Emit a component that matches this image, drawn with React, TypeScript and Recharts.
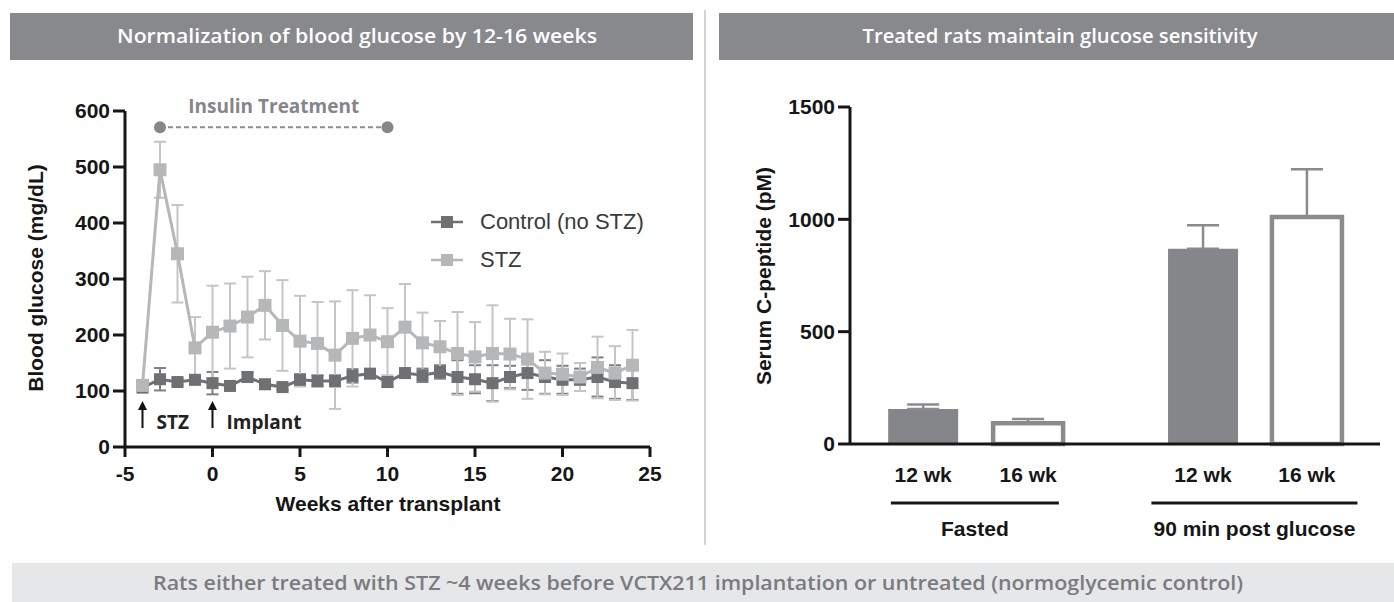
import React from 'react';
import {
  LineChart, Line, XAxis, YAxis, ErrorBar, ReferenceLine, ReferenceDot, Legend,
  BarChart, Bar, Cell,
} from 'recharts';

// ---------- Left panel data ----------
const weeks = [-4, -3, -2, -1, 0, 1, 2, 3, 4, 5, 6, 7, 8, 9, 10, 11, 12, 13, 14, 15, 16, 17, 18, 19, 20, 21, 22, 23, 24];
const controlMean = [106, 121, 116, 120, 114, 109, 125, 112, 107, 120, 118, 118, 127, 131, 116, 132, 128, 134, 125, 121, 114, 125, 132, 125, 120, 120, 125, 116, 114];
const controlErr = [3, 20, 6, 8, 20, 5, 8, 8, 5, 10, 10, 10, 12, 8, 8, 8, 12, 12, 30, 25, 32, 20, 30, 30, 25, 20, 35, 30, 30];
const stzMean = [110, 495, 345, 177, 205, 216, 232, 253, 217, 189, 185, 164, 194, 200, 188, 214, 186, 179, 167, 161, 167, 166, 157, 132, 130, 125, 142, 132, 146];
const stzErr = [5, 50, 87, 55, 83, 76, 72, 61, 81, 81, 74, 96, 86, 71, 60, 77, 54, 46, 74, 62, 86, 63, 71, 38, 37, 25, 55, 48, 63];
const weekTicks = [-5, 0, 5, 10, 15, 20, 25];
const glucoseTicks = [0, 100, 200, 300, 400, 500, 600];
const insulinStart = -3;
const insulinEnd = 10;
const insulinLevel = 571;
const eventWeeks = [-4, 0];
const eventLabels = ['STZ', 'Implant'];

// ---------- Right panel data ----------
const barLabels = ['12 wk', '16 wk', '12 wk', '16 wk'];
const barSlots = [2.09, 5.09, 10.09, 13.06];
const barValues = [156, 92, 869, 1010];
const barErrors = [20, 19, 105, 213];
const barFilled = [true, false, true, false];
const groupLabels = ['Fasted', '90 min post glucose'];
const groupCenters = [3.57, 11.56];
const groupHalfWidths = [84, 103];
const peptideTicks = [0, 500, 1000, 1500];

const glucoseData = weeks.map((w, i) => ({
  week: w,
  control: controlMean[i],
  controlErr: controlErr[i],
  stz: stzMean[i],
  stzErr: stzErr[i],
}));

const barData = barSlots.map((s, i) => ({
  slot: s,
  label: barLabels[i],
  value: barValues[i],
  err: [0, barErrors[i]],
}));

const FONT = '"Liberation Sans", Arial, Helvetica, sans-serif';
const CAL = '"Open Sans", "Noto Sans", sans-serif';
const AXIS = '#161616';
const CTRL = '#6f7073';
const CTRL_ERR = '#7e7f82';
const STZ = '#b6b7b9';
const STZ_ERR = '#c4c5c7';
const HEADER = '#88898c';
const BAR_GRAY = '#858689';

const tickStyle = { fill: AXIS, fontSize: 21, fontWeight: 700, fontFamily: FONT };

const squareDot = (color: string, size: number, prefix: string) => (props: any) => {
  const { cx, cy, index } = props;
  if (cx == null || cy == null) return <g key={`${prefix}-${index}`} />;
  return (
    <rect key={`${prefix}-${index}`} x={cx - size / 2} y={cy - size / 2} width={size} height={size} fill={color} />
  );
};

const LegendContent = (props: any) => {
  const { payload } = props;
  return (
    <div>
      {(payload || []).map((p: any, i: number) => (
        <div key={i} style={{ display: 'flex', alignItems: 'center', height: 38 }}>
          <svg width={34} height={20} style={{ display: 'block' }}>
            <line x1={1} x2={33} y1={10} y2={10} stroke={p.color} strokeWidth={2.5} />
            <rect x={11} y={4} width={12} height={12} fill={p.color} />
          </svg>
          <span style={{ marginLeft: 16, fontSize: 22, fontFamily: FONT, color: '#3a3a3c', lineHeight: '24px' }}>
            {p.value}
          </span>
        </div>
      ))}
    </div>
  );
};

const EventMarker = (props: any) => {
  const { cx, cy, label } = props;
  if (cx == null || cy == null) return <g />;
  return (
    <g>
      <line x1={cx} x2={cx} y1={cy + 13} y2={cy - 7} stroke="#111" strokeWidth={2} />
      <polygon points={`${cx - 4.5},${cy - 5} ${cx + 4.5},${cy - 5} ${cx},${cy - 14}`} fill="#111" />
      <text x={cx + 14} y={cy + 14} fontFamily={CAL} fontWeight={700} fontSize={19} fill="#222">
        {label}
      </text>
    </g>
  );
};

// The group axis sits 30px below the plot bottom (stacked under the tick axis).
const GroupTick = (props: any) => {
  const { x, y, index } = props;
  const half = groupHalfWidths[index] ?? 90;
  return (
    <g>
      <line x1={x - half} x2={x + half} y1={y + 29} y2={y + 29} stroke={AXIS} strokeWidth={3} />
      <text x={x} y={y + 62} textAnchor="middle" {...tickStyle}>
        {groupLabels[index]}
      </text>
    </g>
  );
};

export default function App() {
  return (
    <div style={{ position: 'absolute', left: 0, top: 0, width: 1394, height: 602, background: '#fff', overflow: 'hidden' }}>
      {/* Decorations: headers, footer, separator, axis titles */}
      <svg width={1394} height={602} style={{ position: 'absolute', left: 0, top: 0 }}>
        <rect x={10} y={13} width={683} height={47} fill={HEADER} />
        <text x={357} y={43} textAnchor="middle" fill="#fff" fontFamily={CAL} fontWeight={600} fontSize={19}
          textLength={480} lengthAdjust="spacingAndGlyphs">
          Normalization of blood glucose by 12-16 weeks
        </text>
        <rect x={719} y={13} width={675} height={47} fill={HEADER} />
        <text x={1060} y={43} textAnchor="middle" fill="#fff" fontFamily={CAL} fontWeight={600} fontSize={19}
          textLength={395} lengthAdjust="spacingAndGlyphs">
          Treated rats maintain glucose sensitivity
        </text>
        <rect x={704} y={10} width={2} height={535} fill="#d4d4d6" />
        <rect x={12} y={563} width={1382} height={39} fill="#e6e7e8" />
        <text x={698} y={590} textAnchor="middle" fill="#7a7b7e" fontFamily={CAL} fontWeight={600} fontSize={19}
          textLength={1090} lengthAdjust="spacingAndGlyphs">
          Rats either treated with STZ ~4 weeks before VCTX211 implantation or untreated (normoglycemic control)
        </text>
        <text x={35} y={278} textAnchor="middle" dominantBaseline="central" transform="rotate(-90 35 278)"
          fontFamily={FONT} fontWeight={700} fontSize={21} fill={AXIS}>
          Blood glucose (mg/dL)
        </text>
        <text x={388} y={503} textAnchor="middle" dominantBaseline="central"
          fontFamily={FONT} fontWeight={700} fontSize={21} fill={AXIS}>
          Weeks after transplant
        </text>
        <text x={763} y={276} textAnchor="middle" dominantBaseline="central" transform="rotate(-90 763 276)"
          fontFamily={FONT} fontWeight={700} fontSize={21} fill={AXIS}>
          Serum C-peptide (pM)
        </text>
      </svg>

      {/* Left: blood glucose time course */}
      <div style={{ position: 'absolute', left: 0, top: 0 }}>
        <LineChart width={700} height={560} data={glucoseData} margin={{ top: 111, right: 50, bottom: 83, left: 65 }}>
          <XAxis type="number" dataKey="week" domain={[-5, 25]} ticks={weekTicks} interval={0} height={30}
            axisLine={{ stroke: AXIS, strokeWidth: 3 }} tickLine={{ stroke: AXIS, strokeWidth: 3 }}
            tickSize={10} tickMargin={9} tick={tickStyle} />
          <YAxis type="number" domain={[0, 600]} ticks={glucoseTicks} interval={0} width={60}
            axisLine={{ stroke: AXIS, strokeWidth: 3 }} tickLine={{ stroke: AXIS, strokeWidth: 3 }}
            tickSize={12} tickMargin={3} tick={tickStyle} />
          <ReferenceLine
            segment={[{ x: insulinStart, y: insulinLevel }, { x: insulinEnd, y: insulinLevel }]}
            stroke="#8e8f92" strokeWidth={2} strokeDasharray="5 3"
            label={{ value: 'Insulin Treatment', position: 'top', offset: 14, fill: '#85868a', fontSize: 19, fontWeight: 700, fontFamily: CAL }}
          />
          <ReferenceDot x={insulinStart} y={insulinLevel} r={6} fill="#86878a" stroke="none" />
          <ReferenceDot x={insulinEnd} y={insulinLevel} r={6} fill="#86878a" stroke="none" />
          {eventWeeks.map((w, i) => (
            <ReferenceDot key={`ev-${i}`} x={w} y={57} r={1}
              shape={(p: any) => <EventMarker {...p} label={eventLabels[i]} />} />
          ))}
          <Line dataKey="control" name="Control (no STZ)" stroke={CTRL} strokeWidth={3}
            dot={squareDot(CTRL, 12, 'c')} activeDot={false} isAnimationActive={false}>
            <ErrorBar dataKey="controlErr" direction="y" width={6} stroke={CTRL_ERR} strokeWidth={2} />
          </Line>
          <Line dataKey="stz" name="STZ" stroke={STZ} strokeWidth={3}
            dot={squareDot(STZ, 13, 's')} activeDot={false} isAnimationActive={false}>
            <ErrorBar dataKey="stzErr" direction="y" width={6} stroke={STZ_ERR} strokeWidth={2} />
          </Line>
          <Legend layout="vertical" align="center" verticalAlign="middle" content={LegendContent}
            wrapperStyle={{ left: 430, top: 203, width: 260 }} />
        </LineChart>
      </div>

      {/* Right: C-peptide bars */}
      <div style={{ position: 'absolute', left: 700, top: 0 }}>
        <BarChart width={694} height={602} data={barData} margin={{ top: 107, right: 14, bottom: 98, left: 90 }}>
          <XAxis type="number" dataKey="slot" domain={[0, 15.15]} ticks={barSlots} interval={0} height={30}
            axisLine={{ stroke: AXIS, strokeWidth: 3 }} tickLine={false} tickSize={0} tickMargin={23}
            tickFormatter={(v: number) => barLabels[barSlots.indexOf(v)] ?? ''} tick={tickStyle} />
          <XAxis xAxisId="grp" type="number" dataKey="slot" domain={[0, 15.15]} ticks={groupCenters} interval={0} height={30}
            axisLine={false} tickLine={false} tickSize={0} tickMargin={0} tick={<GroupTick />} />
          <YAxis type="number" domain={[0, 1500]} ticks={peptideTicks} interval={0} width={60}
            axisLine={{ stroke: AXIS, strokeWidth: 3 }} tickLine={{ stroke: AXIS, strokeWidth: 3 }}
            tickSize={12} tickMargin={3} tick={tickStyle} />
          <Bar dataKey="value" barSize={70} isAnimationActive={false}>
            {barData.map((d, i) => (
              <Cell key={`b-${i}`} fill={barFilled[i] ? BAR_GRAY : '#ffffff'}
                stroke={barFilled[i] ? BAR_GRAY : '#8a8b8e'} strokeWidth={barFilled[i] ? 0 : 4.5} />
            ))}
            <ErrorBar dataKey="err" direction="y" width={16} stroke="#8a8b8e" strokeWidth={2.5} />
          </Bar>
        </BarChart>
      </div>
    </div>
  );
}
